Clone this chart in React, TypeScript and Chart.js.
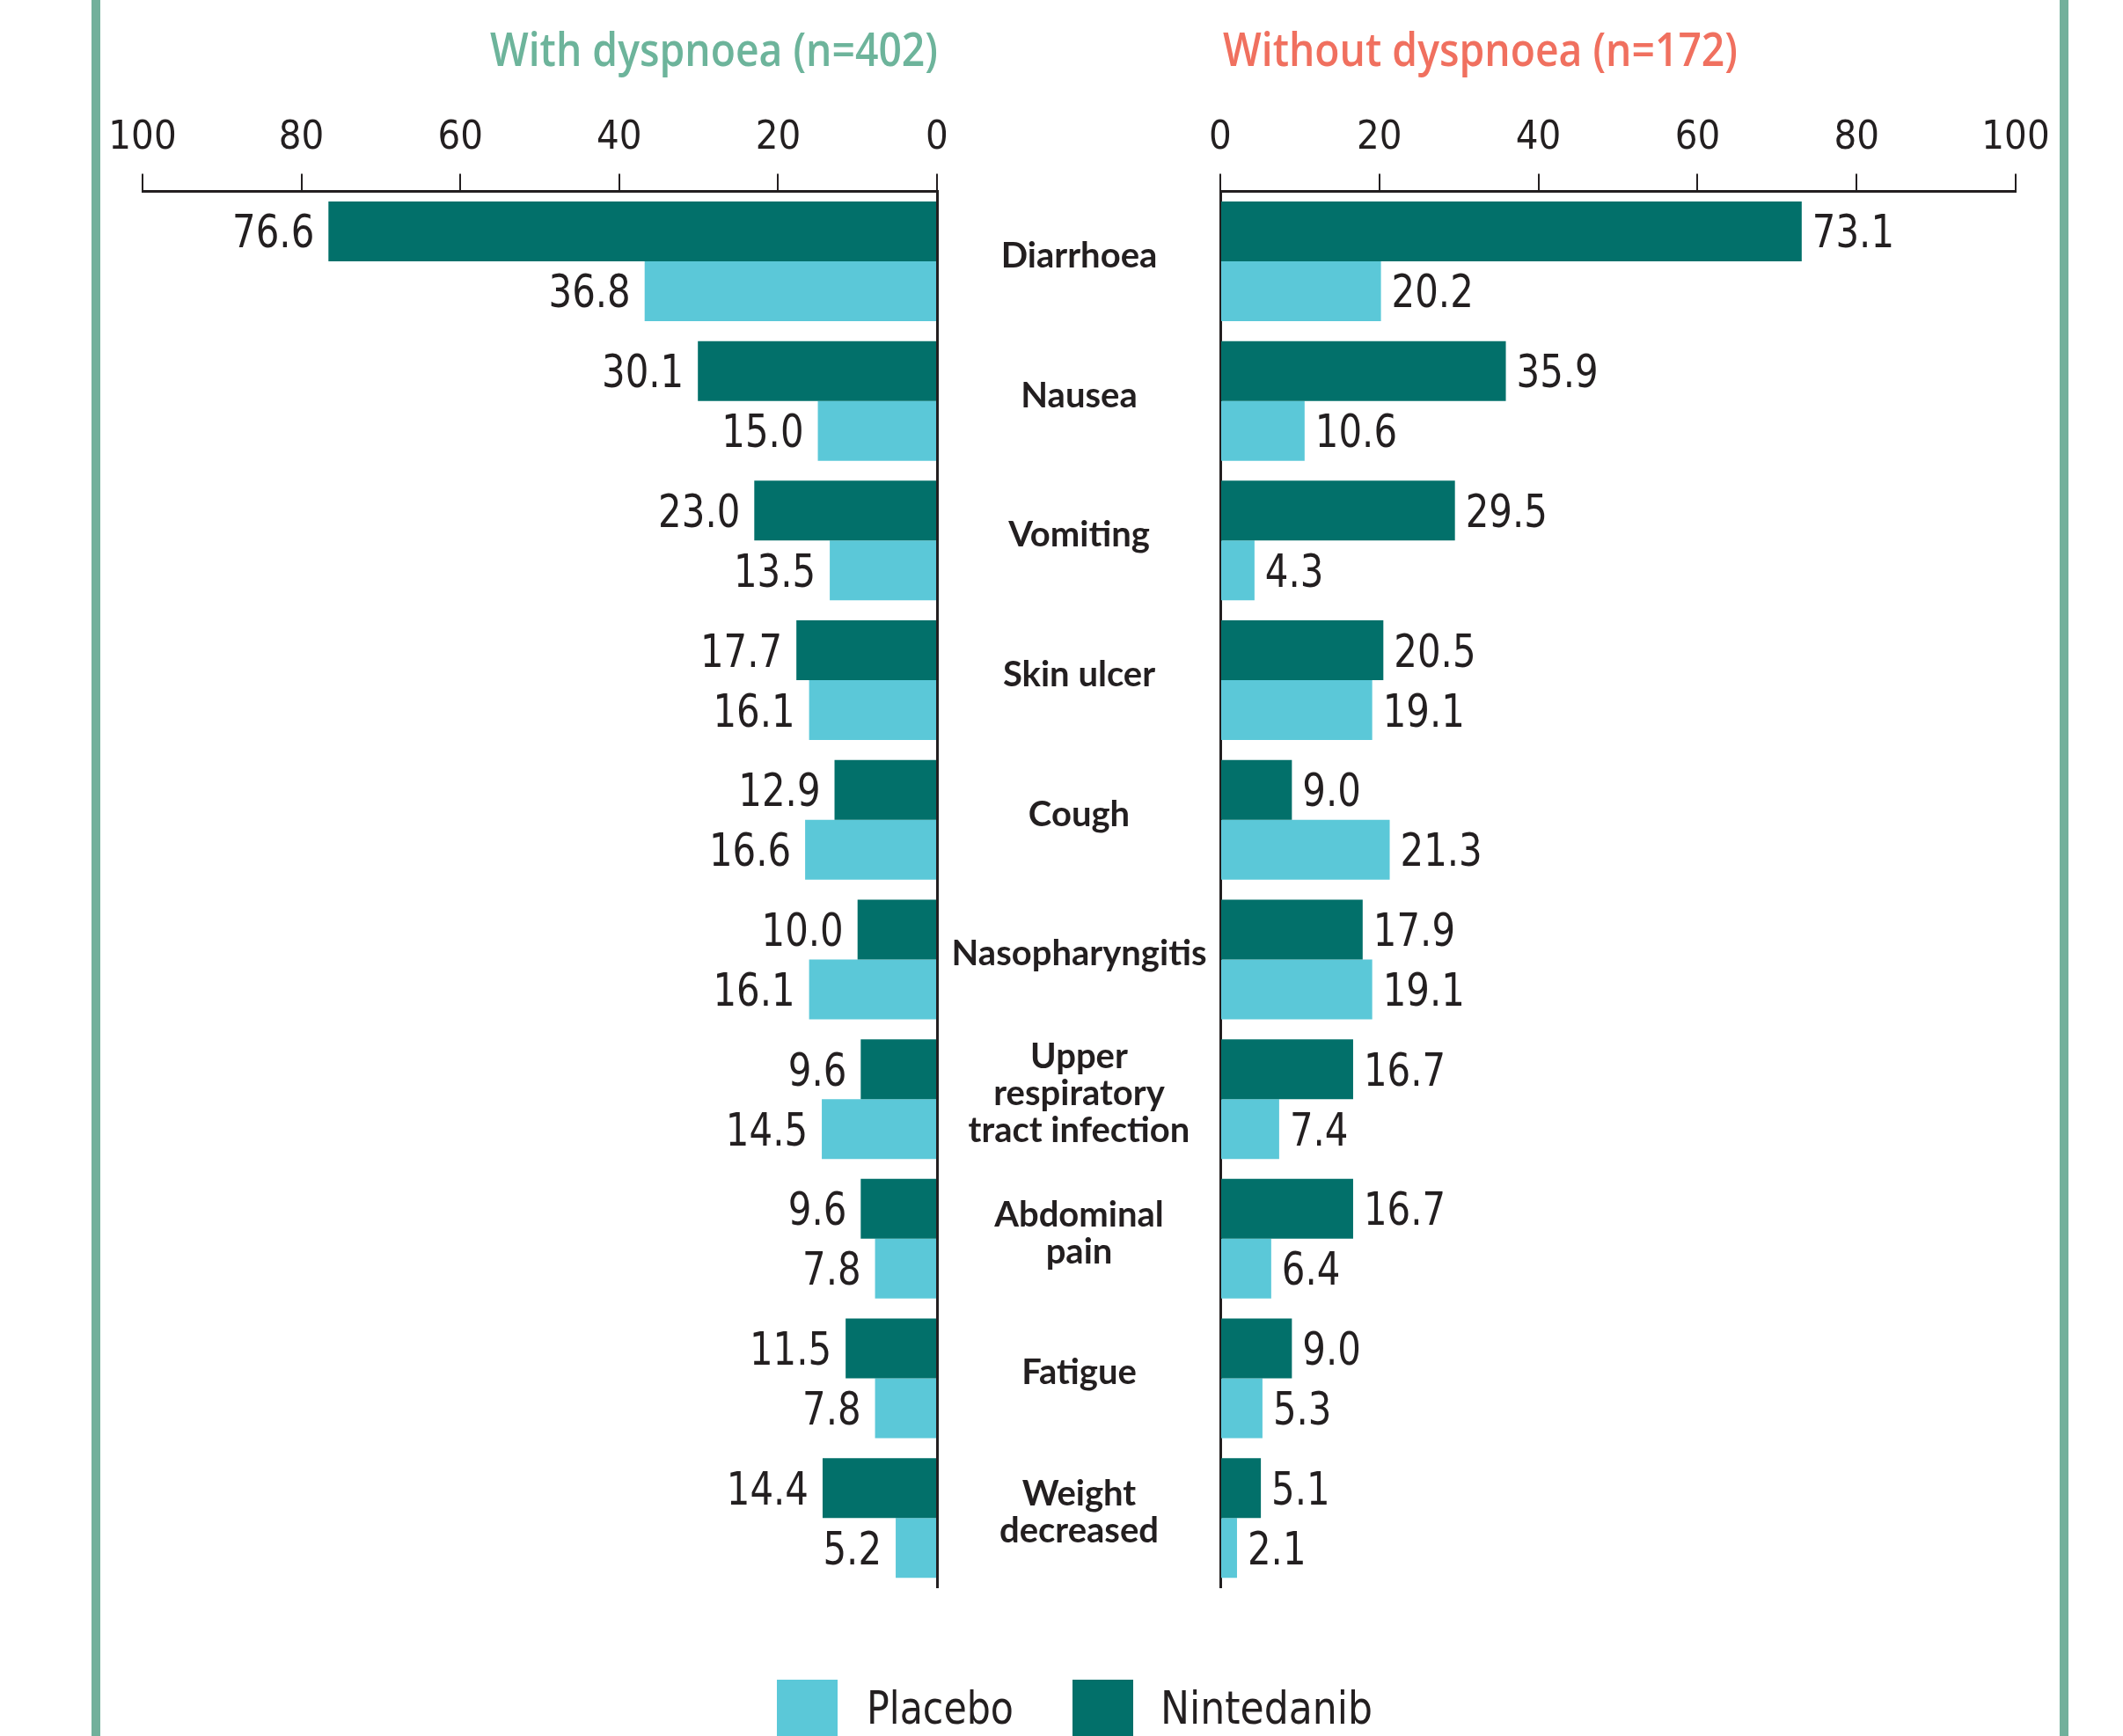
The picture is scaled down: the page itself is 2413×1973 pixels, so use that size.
import React, { useEffect, useRef } from "react";
import { Chart, registerables } from "chart.js";

Chart.register(...registerables);

// ---------------- DATA ----------------
const categories: (string | string[])[] = [
  "Diarrhoea",
  "Nausea",
  "Vomiting",
  "Skin ulcer",
  "Cough",
  "Nasopharyngitis",
  ["Upper", "respiratory", "tract infection"],
  ["Abdominal", "pain"],
  "Fatigue",
  ["Weight", "decreased"],
];
const seriesNames = ["Nintedanib", "Placebo"];
const withDyspnoeaNintedanib = [76.6, 30.1, 23.0, 17.7, 12.9, 10.0, 9.6, 9.6, 11.5, 14.4];
const withDyspnoeaPlacebo = [36.8, 15.0, 13.5, 16.1, 16.6, 16.1, 14.5, 7.8, 7.8, 5.2];
const withoutDyspnoeaNintedanib = [73.1, 35.9, 29.5, 20.5, 9.0, 17.9, 16.7, 16.7, 9.0, 5.1];
const withoutDyspnoeaPlacebo = [20.2, 10.6, 4.3, 19.1, 21.3, 19.1, 7.4, 6.4, 5.3, 2.1];
const axisMin = 0;
const axisMax = 100;
const axisStep = 20;
const panelTitles = ["With dyspnoea (n=402)", "Without dyspnoea (n=172)"];
const legendOrder = ["Placebo", "Nintedanib"];

// ---------------- STYLE / LAYOUT ----------------
const W = 2413;
const H = 1973;
const DARK = "#02706a";
const LIGHT = "#5bc8d8";
const TEXT = "#231f20";
const FRAME = "#72b09b";
const TITLE_GREEN = "#6db49b";
const TITLE_CORAL = "#f0705f";
const COND = "'DejaVu Sans Condensed', 'DejaVu Sans', sans-serif";
const TITLE_FAMILY = "'Open Sans', 'Noto Sans', sans-serif";
const LATO = "Lato, 'Open Sans', sans-serif";

const PLOT_TOP = 217.6;
const PLOT_BOTTOM = 1804.6;
const L_PLOT_LEFT = 162;
const L_PLOT_RIGHT = 1065;
const R_PLOT_LEFT = 1387;
const R_PLOT_RIGHT = 2291;
const L_CANVAS_W = 1100;
const R_CANVAS_LEFT = 1050;
const R_CANVAS_W = W - R_CANVAS_LEFT;
const CAT_AXIS_LEFT = 1066;
const CAT_FONT_SIZE = 40;
const TICK_FONT_SIZE = 45;
const VALUE_FONT_SIZE = 52;
const VALUE_SCALE_X = 0.895;
const TITLE_SIZE = 53;
const LEGEND_SIZE = 52;

function measure(text: string, font: string) {
  const c = document.createElement("canvas").getContext("2d")!;
  c.font = font;
  return c.measureText(text).width;
}

function valueLabelPlugin(side: "left" | "right") {
  return {
    id: "valueLabels" + side,
    afterDatasetsDraw(chart: any) {
      const ctx = chart.ctx;
      chart.data.datasets.forEach((ds: any, di: number) => {
        const meta = chart.getDatasetMeta(di);
        meta.data.forEach((el: any, i: number) => {
          const v = ds.data[i] as number;
          const x = side === "left" ? el.x - 16 : el.x + 12;
          ctx.save();
          ctx.font = `${VALUE_FONT_SIZE}px ${COND}`;
          ctx.fillStyle = TEXT;
          ctx.textBaseline = "middle";
          ctx.textAlign = side === "left" ? "right" : "left";
          ctx.translate(x, el.y + 5);
          ctx.scale(VALUE_SCALE_X, 1);
          ctx.fillText(v.toFixed(1), 0, 0);
          ctx.restore();
        });
      });
    },
  };
}

function xScale(reverse: boolean) {
  return {
    type: "linear",
    position: "top",
    reverse,
    min: axisMin,
    max: axisMax,
    ticks: {
      stepSize: axisStep,
      font: { family: COND, size: TICK_FONT_SIZE },
      color: TEXT,
      padding: 13,
      maxRotation: 0,
      autoSkip: false,
    },
    grid: { drawOnChartArea: false, drawTicks: true, tickLength: 20, color: TEXT, lineWidth: 2 },
    border: { display: true, color: TEXT, width: 3 },
    afterFit: (s: any) => {
      s.height = PLOT_TOP;
    },
  };
}

function datasets(nint: number[], plac: number[]) {
  return [
    { label: seriesNames[0], data: nint, backgroundColor: DARK, categoryPercentage: 0.857, barPercentage: 1.0, borderWidth: 0 },
    { label: seriesNames[1], data: plac, backgroundColor: LIGHT, categoryPercentage: 0.857, barPercentage: 1.0, borderWidth: 0 },
  ];
}

export default function App() {
  const leftRef = useRef<HTMLCanvasElement>(null);
  const rightRef = useRef<HTMLCanvasElement>(null);

  useEffect(() => {
    const mc = document.createElement("canvas").getContext("2d")!;
    mc.font = `bold ${CAT_FONT_SIZE}px ${LATO}`;
    let widest = 0;
    categories.forEach((c) => {
      (Array.isArray(c) ? c : [c]).forEach((line) => {
        widest = Math.max(widest, mc.measureText(line).width);
      });
    });
    const catAxisWidth = R_PLOT_LEFT - CAT_AXIS_LEFT;
    const catPadding = catAxisWidth / 2 - widest / 2;

    const left = new Chart(leftRef.current!, {
      type: "bar",
      data: { labels: categories as any, datasets: datasets(withDyspnoeaNintedanib, withDyspnoeaPlacebo) as any },
      options: {
        indexAxis: "y",
        animation: false,
        responsive: false,
        devicePixelRatio: 1,
        layout: { padding: { left: L_PLOT_LEFT, right: L_CANVAS_W - L_PLOT_RIGHT, top: 0, bottom: H - PLOT_BOTTOM } },
        plugins: { legend: { display: false }, tooltip: { enabled: false }, title: { display: false } },
        scales: {
          x: xScale(true) as any,
          y: {
            type: "category",
            position: "right",
            ticks: { display: false },
            grid: { display: false, drawTicks: false },
            border: { display: true, color: TEXT, width: 3 },
            afterFit: (s: any) => {
              s.width = 0;
            },
          } as any,
        },
      },
      plugins: [valueLabelPlugin("left")],
    });

    const right = new Chart(rightRef.current!, {
      type: "bar",
      data: { labels: categories as any, datasets: datasets(withoutDyspnoeaNintedanib, withoutDyspnoeaPlacebo) as any },
      options: {
        indexAxis: "y",
        animation: false,
        responsive: false,
        devicePixelRatio: 1,
        layout: {
          padding: {
            left: CAT_AXIS_LEFT - R_CANVAS_LEFT,
            right: R_CANVAS_W - (R_PLOT_RIGHT - R_CANVAS_LEFT),
            top: 0,
            bottom: H - PLOT_BOTTOM,
          },
        },
        plugins: { legend: { display: false }, tooltip: { enabled: false }, title: { display: false } },
        scales: {
          x: xScale(false) as any,
          y: {
            type: "category",
            position: "left",
            ticks: {
              display: true,
              autoSkip: false,
              font: { family: LATO, size: CAT_FONT_SIZE, weight: "bold", lineHeight: 1.05 },
              color: TEXT,
              crossAlign: "center",
              padding: catPadding,
              labelOffset: -6,
            },
            grid: { display: false, drawTicks: false },
            border: { display: true, color: TEXT, width: 3 },
            afterFit: (s: any) => {
              s.width = catAxisWidth;
            },
          } as any,
        },
      },
      plugins: [valueLabelPlugin("right")],
    });

    return () => {
      left.destroy();
      right.destroy();
    };
  }, []);

  const titleFont = `600 ${TITLE_SIZE}px ${TITLE_FAMILY}`;
  const t0Scale = 509 / measure(panelTitles[0], titleFont);
  const t1Scale = 585 / measure(panelTitles[1], titleFont);
  const legendFont = `${LEGEND_SIZE}px ${COND}`;
  const l0Scale = 167 / measure(legendOrder[0], legendFont);
  const l1Scale = 241 / measure(legendOrder[1], legendFont);

  const legendText: React.CSSProperties = {
    position: "absolute",
    top: 1915,
    fontFamily: COND,
    fontSize: LEGEND_SIZE,
    lineHeight: `${LEGEND_SIZE}px`,
    color: TEXT,
    whiteSpace: "nowrap",
    transformOrigin: "left center",
  };
  const titleStyle: React.CSSProperties = {
    position: "absolute",
    top: 28,
    fontFamily: TITLE_FAMILY,
    fontWeight: 600,
    fontSize: TITLE_SIZE,
    lineHeight: `${TITLE_SIZE}px`,
    whiteSpace: "nowrap",
  };

  return (
    <div style={{ position: "absolute", left: 0, top: 0, width: W, height: H, overflow: "hidden", background: "#fff" }}>
      <div style={{ position: "absolute", left: 104, top: 0, width: 10, height: H, background: FRAME }} />
      <div style={{ position: "absolute", left: 2341, top: 0, width: 10, height: H, background: FRAME }} />

      <div
        style={{
          ...titleStyle,
          right: W - 1066,
          color: TITLE_GREEN,
          transform: `scaleX(${t0Scale})`,
          transformOrigin: "right center",
        }}
      >
        {panelTitles[0]}
      </div>
      <div
        style={{
          ...titleStyle,
          left: 1390,
          color: TITLE_CORAL,
          transform: `scaleX(${t1Scale})`,
          transformOrigin: "left center",
        }}
      >
        {panelTitles[1]}
      </div>

      <canvas
        ref={leftRef}
        width={L_CANVAS_W}
        height={H}
        style={{ position: "absolute", left: 0, top: 0, width: L_CANVAS_W, height: H }}
      />
      <canvas
        ref={rightRef}
        width={R_CANVAS_W}
        height={H}
        style={{ position: "absolute", left: R_CANVAS_LEFT, top: 0, width: R_CANVAS_W, height: H }}
      />

      <div style={{ position: "absolute", left: 883, top: 1909, width: 69, height: 69, background: LIGHT }} />
      <div style={{ ...legendText, left: 985, transform: `scaleX(${l0Scale})` }}>{legendOrder[0]}</div>
      <div style={{ position: "absolute", left: 1219, top: 1909, width: 69, height: 69, background: DARK }} />
      <div style={{ ...legendText, left: 1319, transform: `scaleX(${l1Scale})` }}>{legendOrder[1]}</div>
    </div>
  );
}
